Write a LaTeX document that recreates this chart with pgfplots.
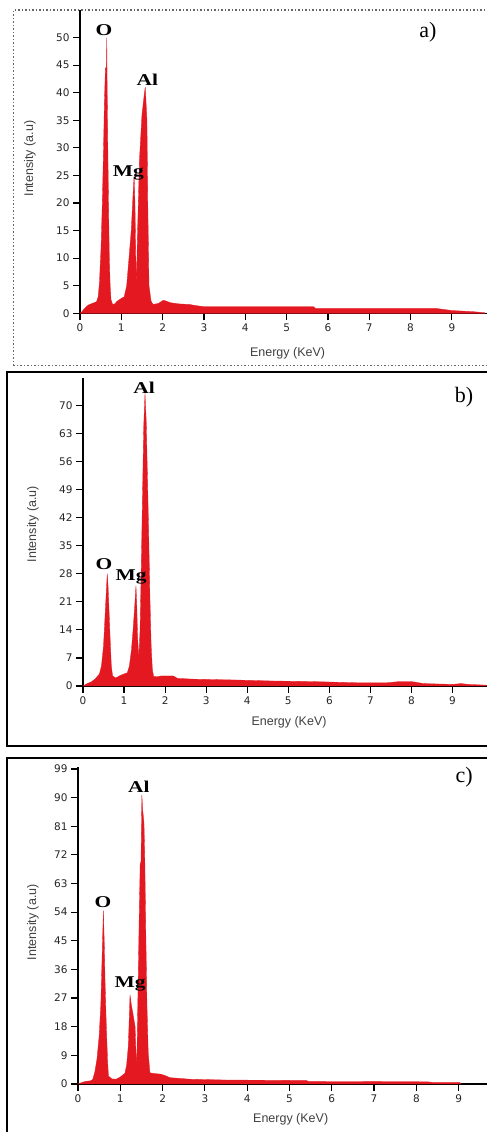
\documentclass[border=0pt]{standalone}
\usepackage{fontspec}
\setmainfont{Liberation Sans}
\newfontfamily\dejavu{DejaVu Sans}
\newfontfamily\tnr{Liberation Serif}
\usepackage{pgfplots}
\pgfplotsset{compat=1.18}
\definecolor{edsred}{RGB}{227,24,33}

\pgfplotstableread{
x y
0 0
0.05 0.3
0.1 0.8
0.2 1.5
0.3 1.8
0.4 2.1
0.44 3
0.47 5.5
0.51 12
0.54 20
0.57 30
0.59 38
0.615 44.5
0.64 44.5
0.648 50
0.656 42
0.67 32
0.69 20
0.71 10
0.73 5
0.75 2.5
0.79 1.6
0.84 1.7
0.9 2.2
1.0 2.7
1.07 3.0
1.13 5.0
1.18 9.5
1.24 15
1.29 22.5
1.31 25
1.33 20
1.35 10
1.365 5
1.39 14
1.44 28
1.5 36
1.53 38
1.56 40
1.58 41
1.6 38
1.62 35
1.64 20
1.67 5
1.72 2.2
1.77 1.6
1.9 1.8
2.0 2.3
2.05 2.3
2.2 1.9
2.4 1.7
2.65 1.6
2.8 1.4
3.0 1.2
5.65 1.2
5.7 0.9
8.6 0.9
9.0 0.5
9.5 0.3
9.8 0.1
}\specA

\pgfplotstableread{
x y
0 0
0.1 0.6
0.2 1.0
0.3 1.8
0.4 3.0
0.45 5
0.5 10
0.54 18
0.57 24
0.59 28
0.61 25
0.63 20
0.66 12
0.69 5
0.72 2.5
0.8 2.0
0.9 2.6
1.0 3.0
1.08 3.3
1.13 5
1.18 9
1.22 14
1.26 20
1.29 25
1.31 20
1.33 12
1.36 7
1.39 14
1.42 30
1.45 48
1.48 65
1.51 73
1.54 66
1.57 52
1.6 38
1.63 22
1.66 10
1.69 4
1.72 2.4
1.8 2.3
1.9 2.5
2.2 2.5
2.3 1.9
2.7 1.7
3.7 1.5
4.6 1.25
5.6 1.1
6.7 0.8
7.4 0.8
7.7 1.1
8.0 1.1
8.3 0.6
9.0 0.4
9.2 0.6
9.4 0.4
9.84 0.2
}\specB

\pgfplotstableread{
x y
0 0
0.1 0.5
0.17 0.8
0.3 1.0
0.35 1.5
0.4 3.9
0.45 8
0.5 15
0.54 25
0.57 40
0.6 54.5
0.62 45
0.64 32
0.67 18
0.7 7
0.72 2.5
0.8 1.6
0.9 1.5
1.0 2.2
1.11 3.4
1.15 6
1.19 12
1.21 20
1.23 28
1.26 25
1.3 22
1.35 18
1.37 10
1.39 6
1.42 30
1.45 55
1.47 69
1.49 70
1.51 90.8
1.53 86
1.56 82
1.58 70
1.6 50
1.63 25
1.66 10
1.7 3.5
1.8 3.3
1.95 3.1
2.05 2.7
2.17 2.0
2.65 1.5
3.5 1.25
5.4 1.1
5.45 0.8
8.25 0.7
8.4 0.5
9.03 0.5
9.05 0
}\specC

\pgfplotsset{
  eds/.style={
    scale only axis, anchor=south west,
    axis lines=left, axis line style={-, line width=1.3pt},
    xmin=0, ymin=0, xtick={0,...,9},
    tick align=outside, major tick length=7pt,
    tick style={black, line width=1.2pt},
    /pgf/number format/assume math mode=true,
    tick label style={font=\dejavu\fontsize{10.5}{12}\selectfont, text=black!85},
    label style={font=\fontsize{12.5}{14}\selectfont, text=black!75},
    xlabel={Energy (KeV)}, ylabel={Intensity (a.u)},
    clip=false,
  },
}
\tikzset{
  el/.style={font=\tnr\bfseries\fontsize{16.5}{18}\selectfont, xscale=1.3},
  pl/.style={font=\tnr\fontsize{22}{24}\selectfont},
}

\begin{document}
\begin{tikzpicture}
\useasboundingbox (0pt,0pt) rectangle (487pt,1132pt);
\fill[white] (0pt,0pt) rectangle (487pt,1132pt);

% a)
\draw[black!60, line width=1.5pt, dotted] (13.3pt,766.3pt) rectangle (500pt,1122pt);
\begin{axis}[eds, at={(80pt,818.7pt)}, width=407pt, height=303.3pt,
  xmax=9.85, ymax=55, ytick={0,5,...,50},
  xlabel style={at={(axis description cs:0.51,0)}, anchor=center, yshift=-39.7pt},
  ylabel style={at={(axis description cs:0,0.51)}, anchor=center, yshift=50pt}]
\addplot[fill=edsred, draw=edsred, line width=0.3pt] table {\specA} \closedcycle;
\node[el] at (axis cs:0.58,51.4) {O};
\node[el] at (axis cs:1.63,42.3) {Al};
\node[el] at (axis cs:1.17,25.5) {Mg};
\node[pl] at (axis cs:8.42,51) {a)};
\end{axis}

% b)
\draw[black, line width=1.8pt] (7.3pt,386pt) rectangle (500pt,760pt);
\begin{axis}[eds, at={(83pt,446pt)}, width=404pt, height=308.3pt,
  xmax=9.84, ymax=76.9, ytick={0,7,...,70},
  xlabel style={at={(axis description cs:0.51,0)}, anchor=center, yshift=-36pt},
  ylabel style={at={(axis description cs:0,0.525)}, anchor=center, yshift=50pt}]
\addplot[fill=edsred, draw=edsred, line width=0.3pt] table {\specB} \closedcycle;
\node[el] at (axis cs:1.49,74.3) {Al};
\node[el] at (axis cs:0.51,30.4) {O};
\node[el] at (axis cs:1.17,27.2) {Mg};
\node[pl] at (axis cs:9.28,72.1) {b)};
\end{axis}

% c)
\draw[black, line width=1.8pt] (7.3pt,-20pt) rectangle (500pt,374pt);
\begin{axis}[eds, at={(78pt,48pt)}, width=409pt, height=317.3pt,
  xmax=9.67, ymax=99.7, ytick={0,9,...,99},
  xlabel style={at={(axis description cs:0.52,0)}, anchor=center, yshift=-35pt},
  ylabel style={at={(axis description cs:0,0.51)}, anchor=center, yshift=45pt}]
\addplot[fill=edsred, draw=edsred, line width=0.3pt] table {\specC} \closedcycle;
\node[el] at (axis cs:1.44,93.3) {Al};
\node[el] at (axis cs:0.59,57.2) {O};
\node[el] at (axis cs:1.23,31.4) {Mg};
\node[pl] at (axis cs:9.13,96.5) {c)};
\end{axis}
\end{tikzpicture}
\end{document}
